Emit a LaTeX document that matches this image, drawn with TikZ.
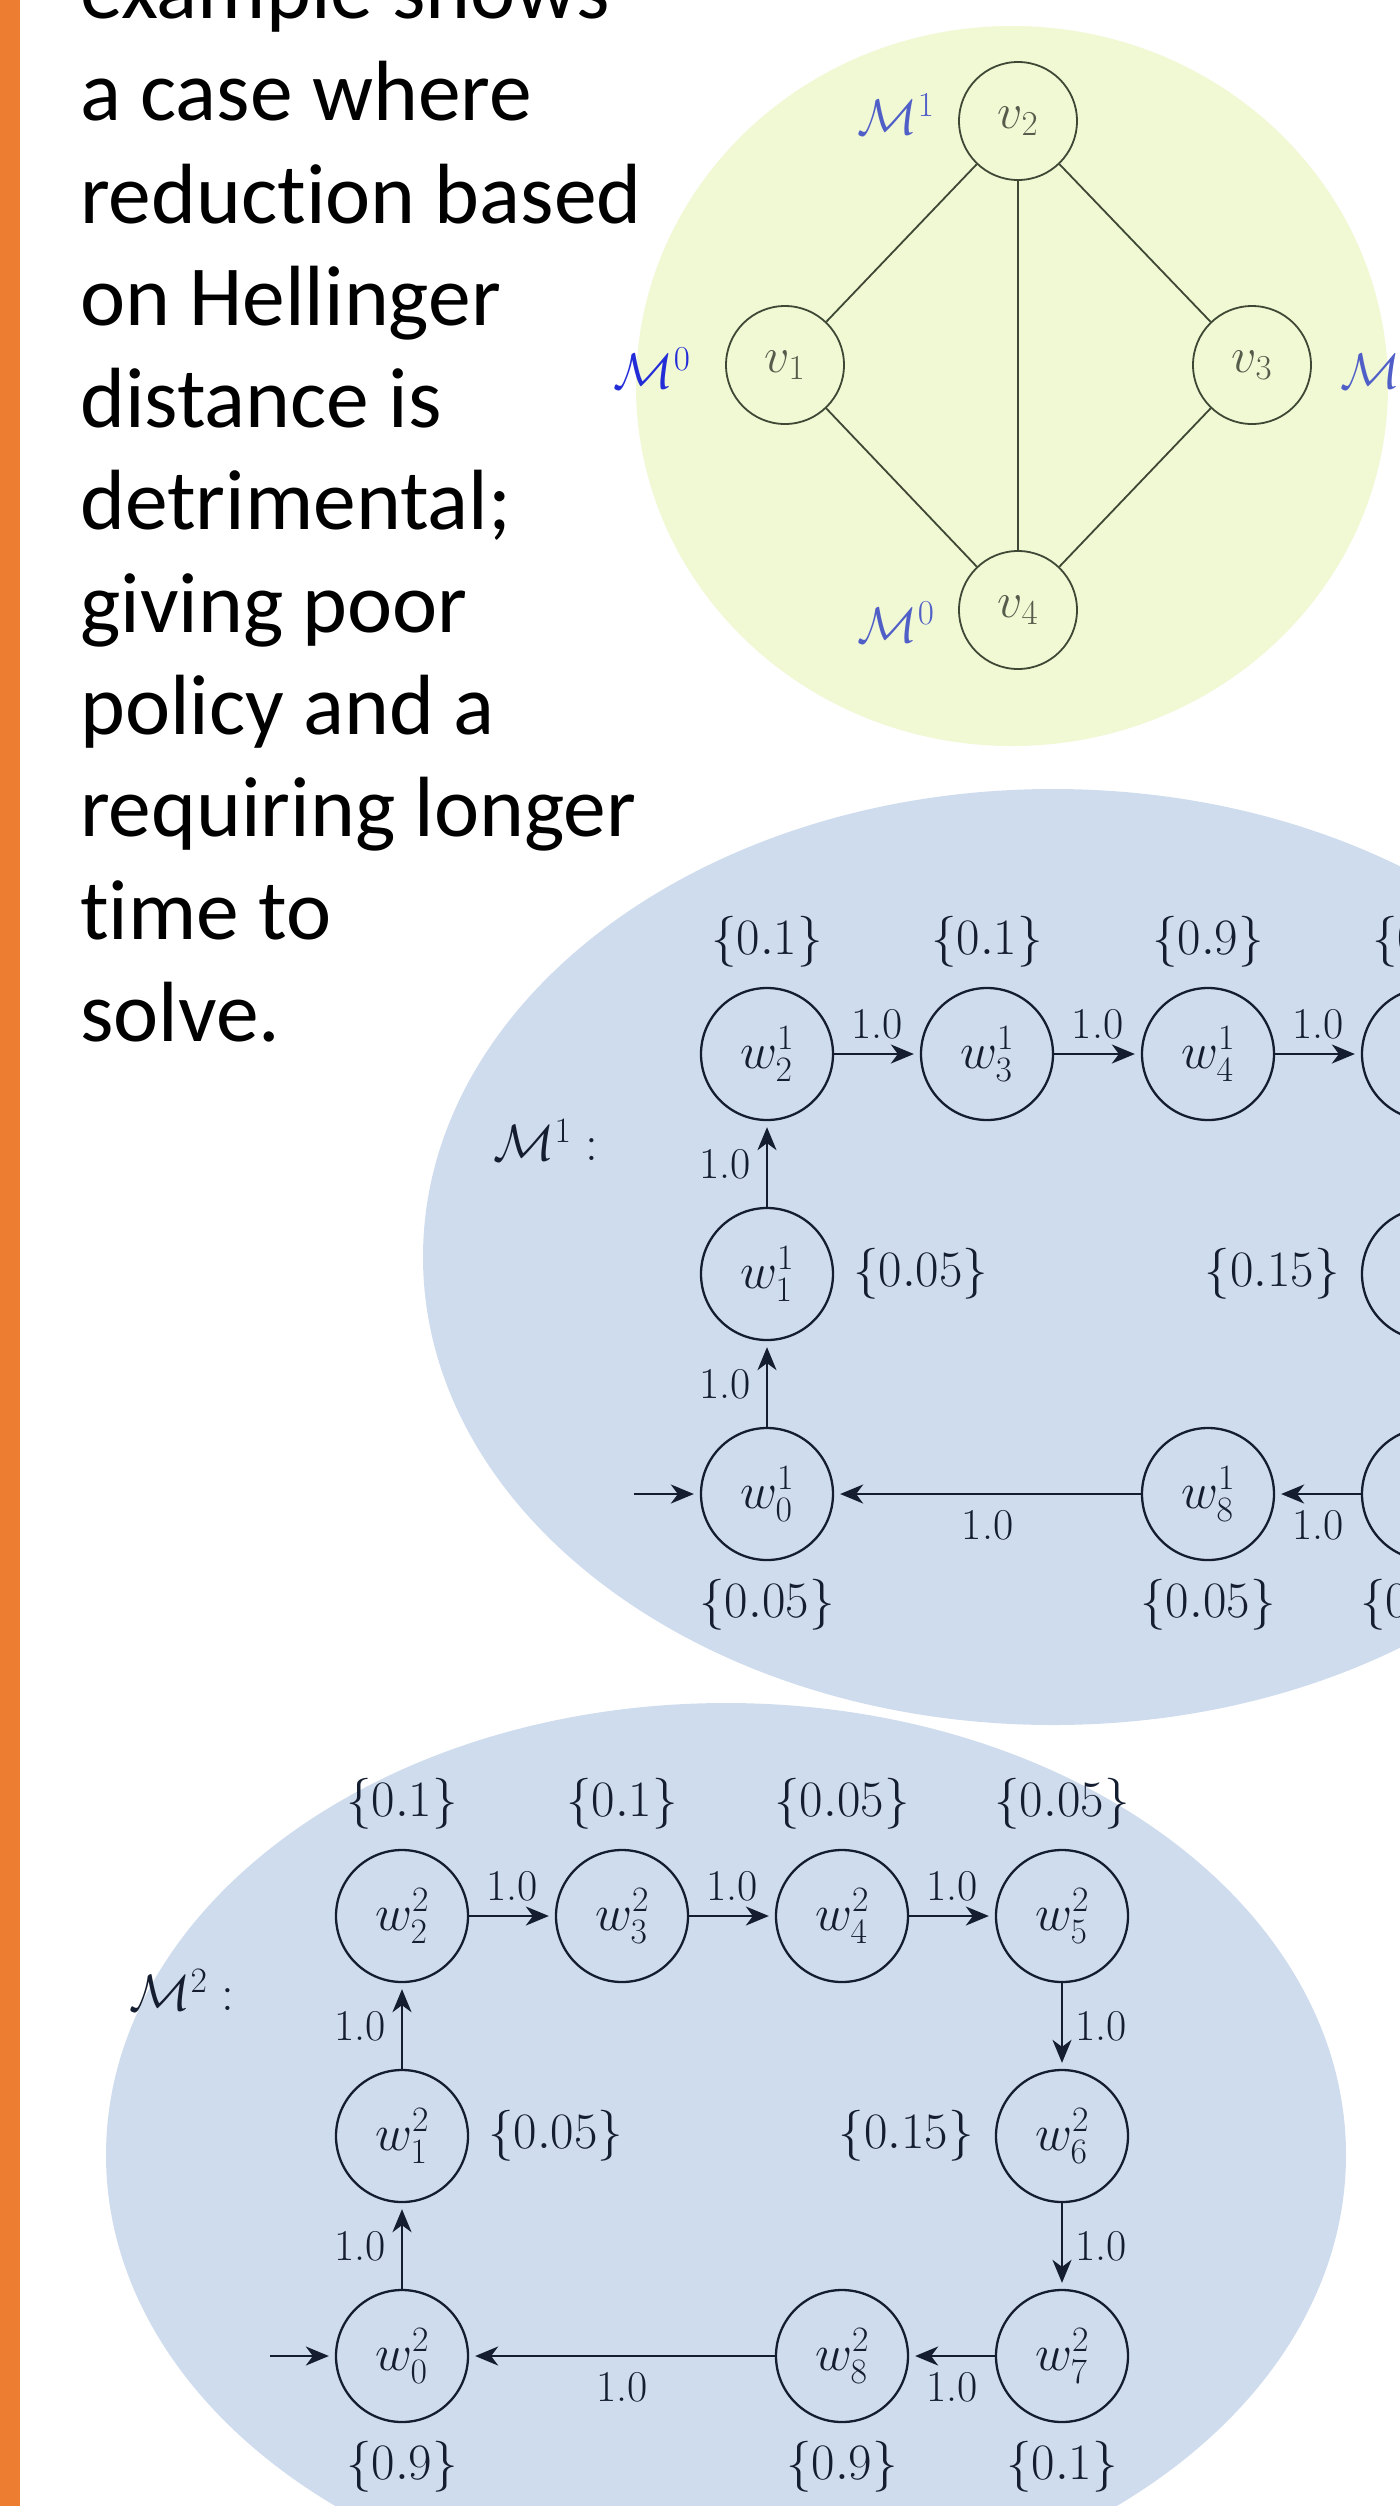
\RequirePackage{fix-cm}
\documentclass[tikz,border=0pt]{standalone}
\usepackage{fontspec}
\newfontfamily\carlito[Ligatures={NoCommon}]{Carlito}
\usetikzlibrary{arrows.meta}
\definecolor{orangebar}{RGB}{237,125,49}
\definecolor{ybg}{RGB}{240,248,212}
\definecolor{bbg}{RGB}{207,220,238}
\definecolor{ink}{RGB}{20,30,48}
\definecolor{olive}{RGB}{62,72,52}
\definecolor{vtext}{RGB}{85,92,75}
\definecolor{mblue}{RGB}{80,95,200}
\definecolor{mbluedeep}{RGB}{35,45,215}
\begin{document}
\begin{tikzpicture}[x=1pt,y=-1pt,
  txt/.style={anchor=base west, inner sep=0pt, font=\carlito\fontsize{85.5}{102}\selectfont},
  vnode/.style={circle, draw=olive, line width=1.8pt, minimum size=118pt, inner sep=0pt, text=vtext, font=\fontsize{50}{60}\selectfont},
  vedge/.style={draw=olive, line width=1.8pt},
  mlab/.style={inner sep=0pt, font=\fontsize{50}{60}\selectfont},
  wnode/.style={circle, draw=ink, line width=2.3pt, minimum size=132pt, inner sep=0pt, text=ink, font=\fontsize{51}{61}\selectfont},
  prob/.style={inner sep=0pt, text=ink, font=\fontsize{51}{61}\selectfont},
  elab/.style={inner sep=0pt, text=ink, font=\fontsize{44}{52}\selectfont},
  tr/.style={draw=ink, line width=2.3pt, -{Stealth[length=23pt, width=19pt, inset=7pt]}, shorten >=6pt},
]
\useasboundingbox (0,0) rectangle (1400,2506);
\clip (0,0) rectangle (1400,2506);
\fill[white] (0,0) rectangle (1400,2506);
\fill[orangebar] (0,0) rectangle (20,2506);
\fill[ybg] (1012,386) ellipse [x radius=376pt, y radius=360pt];
\fill[bbg] (1053,1257) ellipse [x radius=630pt, y radius=468pt];
\fill[bbg] (726,2155) ellipse [x radius=620pt, y radius=452pt];

% left text
\node[txt] (t0) at (80,18.4) {example shows};
\node[txt] (t1) at (80,120.7) {a case where};
\node[txt] (t2) at (80,223) {reduction based};
\node[txt] (t3) at (80,325.3) {on Hellinger};
\node[txt] (t4) at (80,427.6) {distance is};
\node[txt] (t5) at (80,529.9) {detrimental;};
\node[txt] (t6) at (80,632.2) {giving poor};
\node[txt] (t7) at (80,734.5) {policy and a};
\node[txt] (t8) at (80,836.8) {requiring longer};
\node[txt] (t9) at (80,939.1) {time to};
\node[txt] (t10) at (80,1041.4) {solve.};

% top graph
\node[vnode] (v2) at (1018,121) {$v_2$};
\node[vnode] (v1) at (785,365) {$v_1$};
\node[vnode] (v3) at (1252,365) {$v_3$};
\node[vnode] (v4) at (1018,610) {$v_4$};
\draw[vedge] (v1) -- (v2);
\draw[vedge] (v2) -- (v3);
\draw[vedge] (v2) -- (v4);
\draw[vedge] (v1) -- (v4);
\draw[vedge] (v3) -- (v4);
\node[mlab, text=mblue] (lv2) at (896,114) {$\mathcal{M}^1$};
\node[mlab, text=mbluedeep] (lv1) at (652,368) {$\mathcal{M}^0$};
\node[mlab, text=mblue, anchor=west] (lv3) at (1340,368) {$\mathcal{M}^2$};
\node[mlab, text=mblue] (lv4) at (896,622) {$\mathcal{M}^0$};

% M^1 graph
\node[wnode] (a0) at (767,1494) {$w_0^1$};
\node[wnode] (a1) at (767,1274) {$w_1^1$};
\node[wnode] (a2) at (767,1054) {$w_2^1$};
\node[wnode] (a3) at (987,1054) {$w_3^1$};
\node[wnode] (a4) at (1208,1054) {$w_4^1$};
\node[wnode] (a5) at (1428,1054) {$w_5^1$};
\node[wnode] (a6) at (1428,1274) {$w_6^1$};
\node[wnode] (a7) at (1428,1494) {$w_7^1$};
\node[wnode] (a8) at (1208,1494) {$w_8^1$};
\node[prob] (pa2) at (767,942) {$\{0.1\}$};
\node[prob] (pa3) at (987,942) {$\{0.1\}$};
\node[prob] (pa4) at (1208,942) {$\{0.9\}$};
\node[prob] (pa5) at (1428,942) {$\{0.1\}$};
\node[prob, anchor=west] (pa1) at (853,1274) {$\{0.05\}$};
\node[prob, anchor=east] (pa6) at (1340,1274) {$\{0.15\}$};
\node[prob] (pa0) at (767,1605) {$\{0.05\}$};
\node[prob] (pa8) at (1208,1605) {$\{0.05\}$};
\node[prob] (pa7) at (1428,1605) {$\{0.05\}$};
\node[prob] (ma) at (546,1140) {$\mathcal{M}^1 :$};
\coordinate (sa) at (634,1494);
\draw[tr] (sa) -- (a0);
\draw[tr] (a0) -- node[elab, anchor=east, xshift=-15pt] {1.0} (a1);
\draw[tr] (a1) -- node[elab, anchor=east, xshift=-15pt] {1.0} (a2);
\draw[tr] (a2) -- node[elab, yshift=30pt] {1.0} (a3);
\draw[tr] (a3) -- node[elab, yshift=30pt] {1.0} (a4);
\draw[tr] (a4) -- node[elab, yshift=30pt] {1.0} (a5);
\draw[tr] (a5) -- node[elab, anchor=west, xshift=12pt] {1.0} (a6);
\draw[tr] (a6) -- node[elab, anchor=west, xshift=12pt] {1.0} (a7);
\draw[tr] (a7) -- node[elab, yshift=-31pt] {1.0} (a8);
\draw[tr] (a8) -- node[elab, yshift=-31pt] {1.0} (a0);

% M^2 graph
\node[wnode] (b0) at (402,2356) {$w_0^2$};
\node[wnode] (b1) at (402,2136) {$w_1^2$};
\node[wnode] (b2) at (402,1916) {$w_2^2$};
\node[wnode] (b3) at (622,1916) {$w_3^2$};
\node[wnode] (b4) at (842,1916) {$w_4^2$};
\node[wnode] (b5) at (1062,1916) {$w_5^2$};
\node[wnode] (b6) at (1062,2136) {$w_6^2$};
\node[wnode] (b7) at (1062,2356) {$w_7^2$};
\node[wnode] (b8) at (842,2356) {$w_8^2$};
\node[prob] (pb2) at (402,1804) {$\{0.1\}$};
\node[prob] (pb3) at (622,1804) {$\{0.1\}$};
\node[prob] (pb4) at (842,1804) {$\{0.05\}$};
\node[prob] (pb5) at (1062,1804) {$\{0.05\}$};
\node[prob, anchor=west] (pb1) at (488,2136) {$\{0.05\}$};
\node[prob, anchor=east] (pb6) at (974,2136) {$\{0.15\}$};
\node[prob] (pb0) at (402,2467) {$\{0.9\}$};
\node[prob] (pb8) at (842,2467) {$\{0.9\}$};
\node[prob] (pb7) at (1062,2467) {$\{0.1\}$};
\node[prob] (mb) at (182,1990) {$\mathcal{M}^2 :$};
\coordinate (sb) at (270,2356);
\draw[tr] (sb) -- (b0);
\draw[tr] (b0) -- node[elab, anchor=east, xshift=-15pt] {1.0} (b1);
\draw[tr] (b1) -- node[elab, anchor=east, xshift=-15pt] {1.0} (b2);
\draw[tr] (b2) -- node[elab, yshift=30pt] {1.0} (b3);
\draw[tr] (b3) -- node[elab, yshift=30pt] {1.0} (b4);
\draw[tr] (b4) -- node[elab, yshift=30pt] {1.0} (b5);
\draw[tr] (b5) -- node[elab, anchor=west, xshift=12pt] {1.0} (b6);
\draw[tr] (b6) -- node[elab, anchor=west, xshift=12pt] {1.0} (b7);
\draw[tr] (b7) -- node[elab, yshift=-31pt] {1.0} (b8);
\draw[tr] (b8) -- node[elab, yshift=-31pt] {1.0} (b0);
\end{tikzpicture}
\end{document}
